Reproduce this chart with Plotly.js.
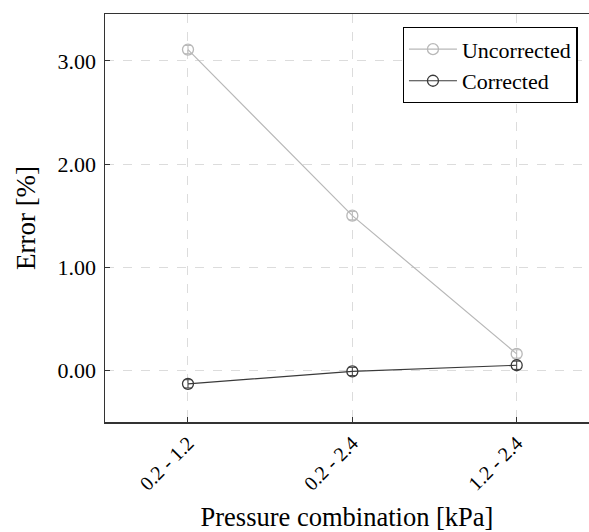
<!DOCTYPE html>
<html>
<head>
<meta charset="utf-8">
<script src="https://cdn.plot.ly/plotly-3.0.1.min.js"></script>
<style>html,body{margin:0;padding:0;overflow:hidden;background:#fff;}</style>
</head>
<body>
<div id="chart"></div>
<script>
const categories = ["0.2 - 1.2", "0.2 - 2.4", "1.2 - 2.4"];
const uncorrected = [3.11, 1.50, 0.16];
const uncorrectedErr = [0.04, 0.04, 0.04];
const corrected = [-0.13, -0.01, 0.05];
const correctedErr = [0.04, 0.04, 0.04];
const yTicks = [0, 1, 2, 3];

const serif = "Liberation Serif";

const traces = [
  {
    x: categories, y: uncorrected, name: "Uncorrected", type: "scatter", mode: "lines+markers",
    line: {color: "#b8b8b8", width: 1.2},
    marker: {symbol: "circle-open", size: 11, color: "#b8b8b8", line: {width: 1.3}},
    error_y: {type: "data", array: uncorrectedErr, color: "#b8b8b8", thickness: 1, width: 4}
  },
  {
    x: categories, y: corrected, name: "Corrected", type: "scatter", mode: "lines+markers",
    line: {color: "#3a3a3a", width: 1.2},
    marker: {symbol: "circle-open", size: 11, color: "#3a3a3a", line: {width: 1.3}},
    error_y: {type: "data", array: correctedErr, color: "#3a3a3a", thickness: 1, width: 4}
  }
];

const layout = {
  width: 589, height: 532,
  margin: {l: 105, r: 0, t: 14, b: 110},
  paper_bgcolor: "#fff", plot_bgcolor: "#fff",
  font: {family: serif, color: "#000", size: 21},
  showlegend: true,
  legend: {
    x: 0.615, y: 0.968, xanchor: "left", yanchor: "top",
    bgcolor: "#fff", bordercolor: "#000", borderwidth: 1.3,
    font: {family: serif, size: 22, color: "#000"},
    itemwidth: 48, tracegroupgap: 0
  },
  xaxis: {
    type: "category", range: [-0.505, 2.44],
    tickangle: -45, ticks: "inside", ticklen: 5, tickcolor: "#333",
    showline: true, linecolor: "#333", linewidth: 1.5, mirror: true,
    showgrid: true, gridcolor: "#dcdcdc", griddash: "dash", gridwidth: 1,
    tickfont: {family: serif, size: 20},
    title: {text: "Pressure combination [kPa]", font: {family: serif, size: 26.5}, standoff: 14},
    zeroline: false
  },
  yaxis: {
    range: [-0.5, 3.455], tickvals: yTicks, tickformat: ".2f",
    ticks: "inside", ticklen: 5, tickcolor: "#333",
    showline: true, linecolor: "#333", linewidth: 1.5, mirror: false,
    showgrid: true, gridcolor: "#dcdcdc", griddash: "dash", gridwidth: 1,
    zeroline: false, ticklabelstandoff: 3,
    tickfont: {family: serif, size: 22},
    title: {text: "Error [%]", font: {family: serif, size: 27}, standoff: 14}
  }
};

Plotly.newPlot("chart", traces, layout, {displayModeBar: false, staticPlot: true});
</script>
</body>
</html>
